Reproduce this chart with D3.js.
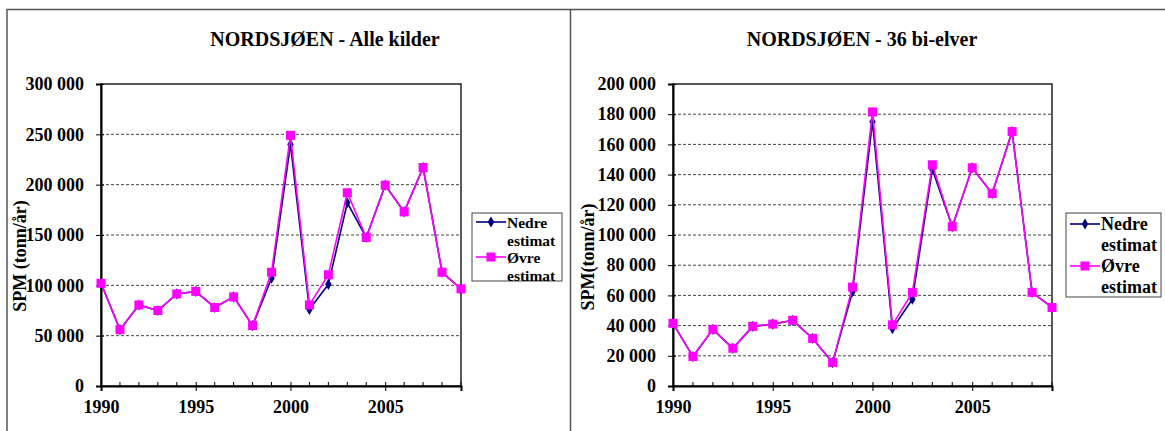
<!DOCTYPE html>
<html>
<head>
<meta charset="utf-8">
<script src="https://cdnjs.cloudflare.com/ajax/libs/d3/7.8.5/d3.min.js"></script>
<style>
  body { margin: 0; background: #fff; }
</style>
</head>
<body>
<div id="chart"></div>
<script>
// data
const years = [1990, 1991, 1992, 1993, 1994, 1995, 1996, 1997, 1998, 1999,
               2000, 2001, 2002, 2003, 2004, 2005, 2006, 2007, 2008, 2009]

const alleNedre = [102000, 56000, 80500, 75000, 91500, 94000, 78000, 88500, 60000, 107000,
                   240000, 76000, 101000, 182000, 147500, 199500, 173000, 217000, 113000, 96500]
const alleOvre = [102000, 56000, 80500, 75000, 91500, 94000, 78000, 88500, 60000, 113000,
                  249000, 80500, 110500, 192000, 147500, 199500, 173000, 217000, 113000, 96500]

const biNedre = [41500, 19500, 37500, 25000, 39500, 41000, 43500, 31500, 15500, 62500,
                 175000, 38000, 57500, 143500, 105500, 144500, 127500, 168500, 62000, 52000]
const biOvre = [41500, 19500, 37500, 25000, 39500, 41000, 43500, 31500, 15500, 65500,
                181500, 40500, 62000, 146500, 105500, 144500, 127500, 168500, 62000, 52000]

const alleTicks = [0, 50000, 100000, 150000, 200000, 250000, 300000]
const biTicks = [0, 20000, 40000, 60000, 80000, 100000, 120000, 140000, 160000, 180000, 200000]
const yearTicks = [1990, 1995, 2000, 2005]
const seriesNames = [["Nedre", "estimat"], ["Øvre", "estimat"]]

const FONT = "'Liberation Serif', 'Times New Roman', 'DejaVu Serif', serif"
const W = 1165, H = 431
const svg = d3.select("#chart").append("svg")
    .attr("width", W)
    .attr("height", H)

// outer frame of the two panels
svg.append("path")
    .attr("d", "M7,431V9.5H1165M570.5,9.5V431")
    .attr("fill", "none")
    .attr("stroke", "#555")
    .attr("stroke-width", 1.5)

const fmt = d3.formatLocale({decimal: ",", thousands: " ", grouping: [3], currency: ["", ""]}).format(",d")

function label(sel, size) {
    sel.style("font-family", FONT)
        .style("font-weight", "bold")
        .style("font-size", size + "px")
        .attr("fill", "#000")
}

function drawPanel(cfg) {
    const x = d3.scaleLinear().domain([1990, 2009]).range([cfg.left, cfg.right])
    const y = d3.scaleLinear().domain([0, cfg.ticks[cfg.ticks.length - 1]]).range([cfg.bottom, cfg.top])
    const g = svg.append("g")

    // title
    g.append("text")
        .attr("x", cfg.titleX)
        .attr("y", 46)
        .attr("text-anchor", "middle")
        .call(label, 20)
        .text(cfg.title)

    // gridlines
    g.append("g")
        .selectAll("line")
        .data(cfg.ticks.slice(1, -1))
        .join("line")
        .attr("x1", cfg.left).attr("x2", cfg.right)
        .attr("y1", d => y(d)).attr("y2", d => y(d))
        .attr("stroke", "#444")
        .attr("stroke-width", 1)
        .attr("stroke-dasharray", "3,2")

    // plot box
    g.append("rect")
        .attr("x", cfg.left).attr("y", cfg.top)
        .attr("width", cfg.right - cfg.left)
        .attr("height", cfg.bottom - cfg.top)
        .attr("fill", "none")
        .attr("stroke", "#222")
        .attr("stroke-width", 1.5)

    // y axis
    const yAxis = g.append("g")
        .attr("transform", "translate(" + cfg.left + ",0)")
        .call(d3.axisLeft(y).tickValues(cfg.ticks).tickFormat(fmt).tickSize(5).tickPadding(12))
    yAxis.select(".domain").attr("stroke", "#000").attr("stroke-width", 2)
    yAxis.selectAll(".tick line").attr("stroke", "#000").attr("x2", -5).attr("x1", 3)
    yAxis.selectAll("text").call(label, 18)

    // x axis, minor ticks inside, major ticks crossing
    const xAxis = g.append("g")
        .attr("transform", "translate(0," + cfg.bottom + ")")
        .call(d3.axisBottom(x).tickValues(yearTicks).tickFormat(d3.format("d")).tickSize(5).tickPadding(9))
    xAxis.select(".domain").attr("stroke", "#000").attr("stroke-width", 2)
    xAxis.selectAll(".tick line").attr("stroke", "#000").attr("y1", -4)
    xAxis.selectAll("text").call(label, 18)
    xAxis.append("g")
        .selectAll("line")
        .data(years.filter(d => !yearTicks.includes(d)))
        .join("line")
        .attr("x1", d => x(d)).attr("x2", d => x(d))
        .attr("y1", -4).attr("y2", 0)
        .attr("stroke", "#000")

    // y axis title
    g.append("text")
        .attr("transform", "translate(" + cfg.yTitleX + "," + cfg.yTitleY + ") rotate(-90)")
        .attr("text-anchor", "middle")
        .call(label, 18)
        .text(cfg.yTitle)

    const line = d3.line().x((d, i) => x(years[i])).y(d => y(d))

    // Nedre estimat
    g.append("path")
        .datum(cfg.nedre)
        .attr("d", line)
        .attr("fill", "none")
        .attr("stroke", "#000080")
        .attr("stroke-width", 1.6)
    g.append("g")
        .selectAll("path")
        .data(cfg.nedre)
        .join("path")
        .attr("d", d3.symbol(d3.symbolDiamond, 36))
        .attr("transform", (d, i) => "translate(" + x(years[i]) + "," + y(d) + ")")
        .attr("fill", "#000080")

    // Øvre estimat
    g.append("path")
        .datum(cfg.ovre)
        .attr("d", line)
        .attr("fill", "none")
        .attr("stroke", "#ff00ff")
        .attr("stroke-width", 1.6)
    g.append("g")
        .selectAll("rect")
        .data(cfg.ovre)
        .join("rect")
        .attr("x", (d, i) => x(years[i]) - 4.5)
        .attr("y", d => y(d) - 4.5)
        .attr("width", 9)
        .attr("height", 9)
        .attr("fill", "#ff00ff")

    // legend
    const lg = g.append("g").attr("transform", "translate(" + cfg.legX + "," + cfg.legY + ")")
    lg.append("rect")
        .attr("x", 0).attr("y", 0)
        .attr("width", cfg.legW).attr("height", cfg.legH)
        .attr("fill", "#fff")
        .attr("stroke", "#444")
        .attr("stroke-width", 1)
    const colors = ["#000080", "#ff00ff"]
    seriesNames.forEach((names, i) => {
        const ly = cfg.legRow0 + i * 2 * cfg.legStep
        lg.append("line")
            .attr("x1", 4).attr("x2", 34)
            .attr("y1", ly).attr("y2", ly)
            .attr("stroke", colors[i])
            .attr("stroke-width", 1.6)
        if (i === 0) {
            lg.append("path")
                .attr("d", d3.symbol(d3.symbolDiamond, 36))
                .attr("transform", "translate(19," + ly + ")")
                .attr("fill", colors[i])
        } else {
            lg.append("rect")
                .attr("x", 14.5).attr("y", ly - 4.5)
                .attr("width", 9).attr("height", 9)
                .attr("fill", colors[i])
        }
        names.forEach((t, j) => {
            lg.append("text")
                .attr("x", 35)
                .attr("y", ly + 6 + j * cfg.legStep)
                .call(label, cfg.legFont)
                .text(t)
        })
    })
}

drawPanel({
    title: "NORDSJØEN - Alle kilder", titleX: 325,
    yTitle: "SPM (tonn/år)", yTitleX: 26, yTitleY: 256,
    left: 101, right: 461, top: 84, bottom: 386,
    ticks: alleTicks, nedre: alleNedre, ovre: alleOvre,
    legX: 472, legY: 213, legW: 90, legH: 68, legRow0: 9, legStep: 17.5, legFont: 15.5
})

drawPanel({
    title: "NORDSJØEN - 36 bi-elver", titleX: 862,
    yTitle: "SPM(tonn/år)", yTitleX: 594, yTitleY: 257,
    left: 673, right: 1052, top: 84, bottom: 386,
    ticks: biTicks, nedre: biNedre, ovre: biOvre,
    legX: 1066, legY: 213, legW: 95, legH: 84, legRow0: 11, legStep: 21, legFont: 18
})
</script>
</body>
</html>
